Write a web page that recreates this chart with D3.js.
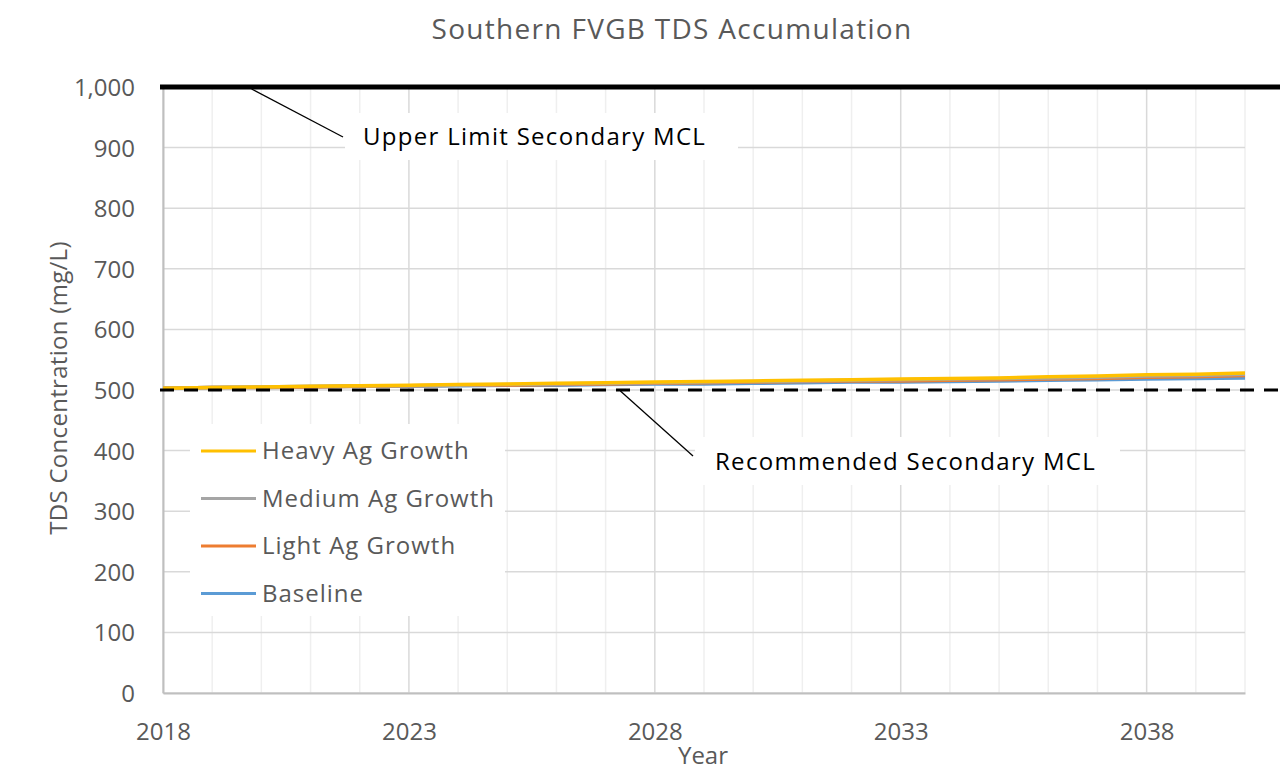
<!DOCTYPE html>
<html>
<head>
  <meta charset="UTF-8">
  <title>Southern FVGB TDS Accumulation</title>
  <style>
    body { margin: 0; background: #fff; }
    text { font-family: "Open Sans", "Noto Sans", sans-serif; }
  </style>
</head>
<body>
<svg></svg>
<script src="https://d3js.org/d3.v7.min.js"></script>
<script>

let width = 1280, height = 770;

// data
const years = d3.range(2018, 2041);
const heavy    = [503, 504, 505, 506, 507, 508, 509, 510, 511, 512, 513, 514, 515, 516, 517, 518, 519, 520, 522, 523, 525, 526, 528];
const medium   = [503, 504, 505, 506, 507, 507, 508, 509, 510, 511, 512, 513, 514, 515, 516, 517, 518, 519, 520, 521, 523, 524, 526];
const light    = [503, 504, 504, 505, 506, 507, 508, 508, 509, 510, 511, 512, 513, 514, 515, 515, 516, 517, 518, 519, 521, 522, 524];
const baseline = [503, 504, 504, 505, 506, 506, 507, 508, 508, 509, 510, 510, 511, 512, 513, 513, 514, 515, 516, 517, 518, 519, 520];
const seriesNames = ["Heavy Ag Growth", "Medium Ag Growth", "Light Ag Growth", "Baseline"];
const seriesColors = ["#ffc000", "#a5a5a5", "#ed7d31", "#5b9bd5"];
const yTicks = [0, 100, 200, 300, 400, 500, 600, 700, 800, 900, 1000];
const xTicks = [2018, 2023, 2028, 2033, 2038];
const upperLimit = 1000, recommended = 500;

let svg = d3.select("svg")
    .attr("width", width)
    .attr("height", height);

let margin = {left: 163, right: 35, top: 87, bottom: 77};

let x = d3.scaleLinear().domain([2018, 2040]).range([margin.left, width - margin.right]);
let y = d3.scaleLinear().domain([0, 1000]).range([height - margin.bottom, margin.top]);

// title
svg.append("text")
    .attr("x", 672).attr("y", 39)
    .attr("text-anchor", "middle")
    .style("font-size", "28px")
    .style("letter-spacing", "1.3px")
    .style("fill", "#595959")
    .text("Southern FVGB TDS Accumulation");

// gridlines
let grid = svg.append("g");
grid.selectAll("line.vminor")
    .data(years)
    .enter().append("line")
    .attr("x1", d => x(d)).attr("x2", d => x(d))
    .attr("y1", y(1000)).attr("y2", y(0))
    .attr("stroke", d => (d - 2018) % 5 == 0 ? "#d9d9d9" : "#efefef")
    .attr("stroke-width", 1.5);
grid.selectAll("line.h")
    .data(yTicks)
    .enter().append("line")
    .attr("x1", x(2018)).attr("x2", x(2040))
    .attr("y1", d => y(d)).attr("y2", d => y(d))
    .attr("stroke", "#d9d9d9")
    .attr("stroke-width", 1.5);

// axes
let yAxis = svg.append("g")
    .attr("transform", "translate(" + x(2018) + ",0)")
    .call(d3.axisLeft(y).tickValues(yTicks).tickSize(0).tickPadding(28).tickFormat(d3.format(",")));
let xAxis = svg.append("g")
    .attr("transform", "translate(0," + y(0) + ")")
    .call(d3.axisBottom(x).tickValues(xTicks).tickSize(0).tickPadding(30).tickFormat(d3.format("d")));
[yAxis, xAxis].forEach(a => {
    a.select(".domain").attr("stroke", "#bfbfbf").attr("stroke-width", 2);
    a.selectAll("text").style("font-size", "24px").style("fill", "#595959").style("font-family", "'Open Sans', sans-serif");
});
yAxis.selectAll("text").attr("dy", "0.35em");
xAxis.selectAll("text").attr("dy", "0.71em");

// axis titles
svg.append("text")
    .attr("transform", "translate(67," + 388 + ") rotate(-90)")
    .attr("text-anchor", "middle")
    .style("font-size", "24px")
    .style("letter-spacing", "0.3px")
    .style("fill", "#595959")
    .text("TDS Concentration (mg/L)");
svg.append("text")
    .attr("x", 703).attr("y", 764)
    .attr("text-anchor", "middle")
    .style("font-size", "24px")
    .style("fill", "#595959")
    .text("Year");

// label boxes (white, hide gridlines)
let boxes = svg.append("g");
boxes.append("rect").attr("x", 345).attr("y", 113).attr("width", 393).attr("height", 47).attr("fill", "#fff");
boxes.append("rect").attr("x", 695).attr("y", 437).attr("width", 425).attr("height", 48).attr("fill", "#fff");
boxes.append("rect").attr("x", 190).attr("y", 424).attr("width", 315).attr("height", 192).attr("fill", "#fff");

// series lines
let line = d3.line().x((d, i) => x(years[i])).y(d => y(d));
let allSeries = [baseline, light, medium, heavy];
let allColors = seriesColors.slice().reverse();
svg.append("g").selectAll("path")
    .data(allSeries)
    .enter().append("path")
    .attr("d", d => line(d))
    .attr("fill", "none")
    .attr("stroke", (d, i) => allColors[i])
    .attr("stroke-width", 3.5);

// MCL reference lines
svg.append("line")
    .attr("x1", 160).attr("x2", width)
    .attr("y1", y(upperLimit)).attr("y2", y(upperLimit))
    .attr("stroke", "#000").attr("stroke-width", 5);
svg.append("line")
    .attr("x1", 160).attr("x2", width)
    .attr("y1", y(recommended)).attr("y2", y(recommended))
    .attr("stroke", "#000").attr("stroke-width", 3)
    .attr("stroke-dasharray", "14,10");

// leader lines + labels
svg.append("line")
    .attr("x1", x(2019.8)).attr("y1", y(upperLimit) + 2)
    .attr("x2", 343).attr("y2", 137)
    .attr("stroke", "#000").attr("stroke-width", 1.3);
svg.append("text")
    .attr("x", 363).attr("y", 145)
    .style("font-size", "24px").style("letter-spacing", "1.3px").style("fill", "#000")
    .text("Upper Limit Secondary MCL");
svg.append("line")
    .attr("x1", x(2027.3)).attr("y1", y(recommended) + 1)
    .attr("x2", 693).attr("y2", 456)
    .attr("stroke", "#000").attr("stroke-width", 1.3);
svg.append("text")
    .attr("x", 715).attr("y", 470)
    .style("font-size", "24px").style("letter-spacing", "1.3px").style("fill", "#000")
    .text("Recommended Secondary MCL");

// legend
let legend = svg.selectAll("g.legend")
    .data(seriesNames)
    .enter().append("g")
    .attr("class", "legend")
    .attr("transform", (d, i) => "translate(201," + (451 + i * 47.5) + ")");
legend.append("line")
    .attr("x1", 0).attr("x2", 55)
    .attr("stroke", (d, i) => seriesColors[i])
    .attr("stroke-width", 3);
legend.append("text")
    .attr("x", 61).attr("dy", "0.35em")
    .style("font-size", "24px").style("letter-spacing", "1px").style("fill", "#595959")
    .text(d => d);

</script>
</body>
</html>
